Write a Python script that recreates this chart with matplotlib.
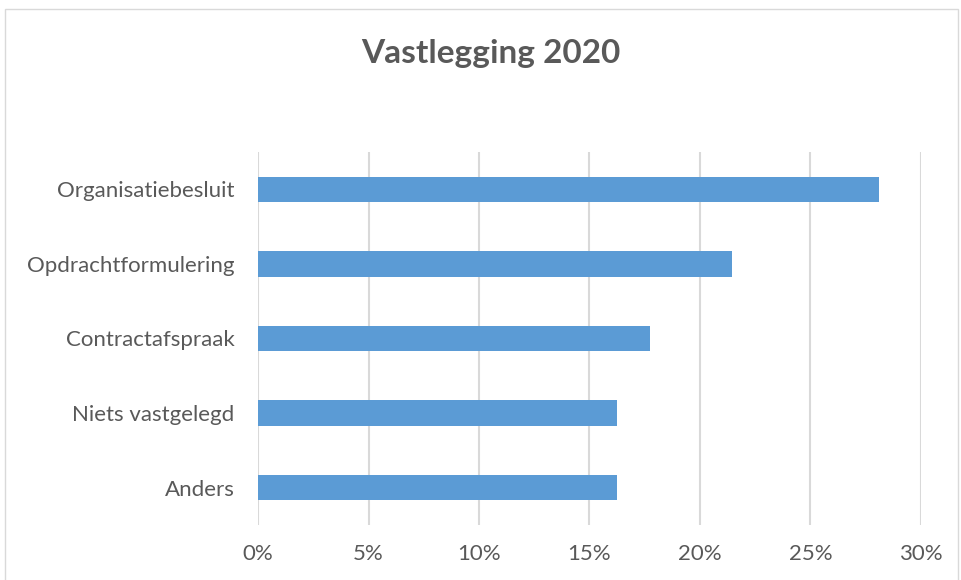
import matplotlib.pyplot as plt
from matplotlib.patches import Rectangle

categories = ['Organisatiebesluit', 'Opdrachtformulering', 'Contractafspraak',
              'Niets vastgelegd', 'Anders']
values = [28.1, 21.45, 17.75, 16.25, 16.25]
ticks = [0, 5, 10, 15, 20, 25, 30]
tick_labels = ['0%', '5%', '10%', '15%', '20%', '25%', '30%']

plt.rcParams['font.family'] = ['Lato', 'DejaVu Sans']
text_col = '#595959'

fig = plt.figure(figsize=(9.62, 5.8), dpi=100)
ax = fig.add_axes([258 / 962, 1 - 525 / 580, (921 - 258) / 962, (525 - 152) / 580])

pos = list(range(len(categories)))[::-1]
ax.barh(pos, values, height=0.34, color='#5b9bd5', zorder=3)
ax.set_xlim(0, 30)
ax.set_ylim(-0.5, len(categories) - 0.5)
ax.set_yticks(pos)
ax.set_yticklabels(categories)
ax.set_xticks(ticks)
ax.set_xticklabels(tick_labels)
ax.grid(axis='x', color='#d9d9d9', linewidth=1.5, zorder=0)
for s in ax.spines.values():
    s.set_visible(False)
ax.tick_params(axis='both', length=0, labelsize=16, labelcolor=text_col)
ax.tick_params(axis='y', pad=17)
ax.tick_params(axis='x', pad=14)

fig.text(491 / 962, 1 - 53 / 580, 'Vastlegging 2020', ha='center', va='center',
         fontsize=24, fontweight='bold', color=text_col)

# chart border
fig.patches.append(Rectangle((5 / 962, -0.01), (958 - 5) / 962, 1 - 9 / 580 + 0.01,
                             transform=fig.transFigure, fill=False,
                             edgecolor='#d9d9d9', linewidth=1))

fig.savefig('out.png', dpi=100)
